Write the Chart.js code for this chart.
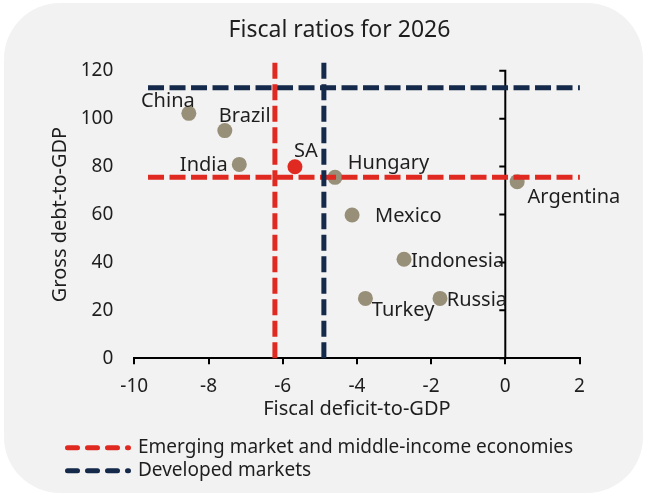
<!DOCTYPE html>
<html>
<head>
<meta charset="utf-8">
<script src="https://cdn.jsdelivr.net/npm/chart.js@4.4.1/dist/chart.umd.min.js"></script>
<style>
  html, body { margin: 0; padding: 0; background: #fff; }
  #wrap { position: relative; width: 647px; height: 496px; }
  #panel { position: absolute; left: 4px; top: 3px; width: 639px; height: 490px; border-radius: 56px; background: #f2f2f2; }
  #chart { position: absolute; left: 0; top: 0; }
</style>
</head>
<body>
<div id="wrap">
  <div id="panel"></div>
  <canvas id="chart" width="647" height="496"></canvas>
</div>
<script>
    // Data
    const countries = ["China", "Brazil", "India", "Hungary", "Mexico", "Indonesia", "Turkey", "Russia", "Argentina"];
    const deficit = [-8.53, -7.56, -7.17, -4.59, -4.13, -2.73, -3.77, -1.76, 0.32];
    const debt = [102.2, 95.0, 80.9, 75.5, 59.8, 41.3, 25.0, 25.0, 73.7];

    const focusCountry = ["SA"];
    const focusDeficit = [-5.67];
    const focusDebt = [79.9];

    // [deficit, debt] averages
    const emAverage = [-6.21, 75.5];
    const dmAverage = [-4.89, 112.9];
    const refLineDeficitSpan = [-9.63, 2.01];
    const refLineDebtSpan = [0, 123.6];

    const seriesNames = ["Emerging market and middle-income economies", "Developed markets"];

    // Label placement next to each point: [textAlign, dx, dy]
    const labelPlacement = {
      China: ["center", -21, -6.6],
      Brazil: ["left", -6, -8.4],
      India: ["right", -11.6, 6.7],
      SA: ["left", -1, -10],
      Hungary: ["left", 12.7, -8],
      Argentina: ["left", 10.4, 21],
      Mexico: ["left", 23, 6.7],
      Indonesia: ["left", 7, 7.4],
      Turkey: ["left", 6.4, 17.4],
      Russia: ["left", 6.7, 7.4]
    };

    const FONT = "'Noto Sans', sans-serif";
    const TEXT = "#1e1e1e";
    const RED = "#e02a21";
    const NAVY = "#15294a";
    const DOT = "#978f78";

    const ctx = document.getElementById("chart").getContext("2d");

    // Vertical axis line through x = 0 with ticks on its left
    const zeroAxis = {
      id: "zeroAxis",
      beforeDatasetsDraw(chart) {
        const { x, y } = chart.scales;
        const c = chart.ctx;
        const px = x.getPixelForValue(0);
        c.save();
        c.strokeStyle = "#000";
        c.lineWidth = 2;
        c.beginPath();
        c.moveTo(px, y.getPixelForValue(0));
        c.lineTo(px, y.getPixelForValue(y.max));
        y.ticks.forEach((t) => {
          const py = y.getPixelForValue(t.value);
          c.moveTo(px - 6, py);
          c.lineTo(px + 1, py);
        });
        c.stroke();
        c.restore();
      }
    };

    // Country names next to the dots
    const pointLabels = {
      id: "pointLabels",
      afterDatasetsDraw(chart) {
        const c = chart.ctx;
        c.save();
        c.font = "20px " + FONT;
        c.fillStyle = TEXT;
        c.textBaseline = "alphabetic";
        chart.data.datasets.forEach((ds, i) => {
          if (!ds.names) return;
          chart.getDatasetMeta(i).data.forEach((pt, j) => {
            const [align, dx, dy] = labelPlacement[ds.names[j]];
            c.textAlign = align;
            c.fillText(ds.names[j], pt.x + dx, pt.y + dy);
          });
        });
        c.restore();
      }
    };

    function refLine(xs, ys, color) {
      return {
        type: "line",
        data: xs.map((v, i) => ({ x: v, y: ys[i] })),
        borderColor: color,
        backgroundColor: color,
        borderWidth: 5,
        borderDash: [16, 5.5],
        pointRadius: 0,
        showLine: true,
        fill: false,
        clip: false
      };
    }

    const chart = new Chart(ctx, {
      type: "scatter",
      data: {
        datasets: [
          Object.assign(refLine([emAverage[0], emAverage[0]], refLineDebtSpan, RED), { label: seriesNames[0] }),
          Object.assign(refLine([dmAverage[0], dmAverage[0]], refLineDebtSpan, NAVY), { label: seriesNames[1] }),
          refLine(refLineDeficitSpan, [emAverage[1], emAverage[1]], RED),
          refLine(refLineDeficitSpan, [dmAverage[1], dmAverage[1]], NAVY),
          {
            names: focusCountry,
            data: focusDeficit.map((v, i) => ({ x: v, y: focusDebt[i] })),
            backgroundColor: RED,
            borderWidth: 0,
            pointRadius: 7.5
          },
          {
            names: countries,
            data: deficit.map((v, i) => ({ x: v, y: debt[i] })),
            backgroundColor: DOT,
            borderWidth: 0,
            pointRadius: 7.5
          }
        ]
      },
      options: {
        responsive: false,
        animation: false,
        devicePixelRatio: 1,
        events: [],
        layout: { padding: { top: 6, left: 63.5, right: 31.5, bottom: 5.8 } },
        plugins: {
          tooltip: { enabled: false },
          title: {
            display: true,
            text: "Fiscal ratios for 2026",
            color: TEXT,
            font: { family: FONT, size: 23, weight: "normal" },
            padding: { top: 10.6, bottom: 26.5 }
          },
          legend: {
            position: "bottom",
            align: "start",
            labels: {
              usePointStyle: true,
              pointStyleWidth: 61,
              padding: 4,
              color: TEXT,
              font: { family: FONT, size: 19 },
              generateLabels: (chart) =>
                chart.data.datasets.slice(0, 2).map((ds, i) => ({
                  text: ds.label,
                  fillStyle: ds.borderColor,
                  strokeStyle: ds.borderColor,
                  fontColor: TEXT,
                  lineWidth: 5,
                  lineDash: [10, 10],
                  lineCap: "round",
                  pointStyle: "line",
                  datasetIndex: i
                }))
            }
          }
        },
        scales: {
          x: {
            type: "linear",
            min: -10,
            max: 2,
            ticks: { stepSize: 2, padding: 10.6, color: TEXT, font: { family: FONT, size: 19 } },
            grid: { display: true, drawOnChartArea: false, drawTicks: true, tickLength: 6, color: "#000", lineWidth: 2 },
            border: { display: true, color: "#000", width: 2 },
            title: {
              display: true,
              text: "Fiscal deficit-to-GDP",
              color: TEXT,
              font: { family: FONT, size: 20 },
              padding: { top: 0, bottom: 12.7 }
            },
            afterFit: (s) => { s.height = 75.9; }
          },
          y: {
            type: "linear",
            min: 0,
            max: 120,
            ticks: { stepSize: 20, padding: 21, color: TEXT, font: { family: FONT, size: 19 } },
            grid: { display: false, drawTicks: false },
            border: { display: false },
            title: {
              display: true,
              text: "Gross debt-to-GDP",
              color: TEXT,
              font: { family: FONT, size: 20 },
              padding: { top: -15.5, bottom: 0 }
            },
            afterFit: (s) => { s.width = 70.8; }
          },
          y2: {
            type: "linear",
            position: "right",
            ticks: { display: false },
            grid: { display: false, drawTicks: false },
            border: { display: false },
            afterFit: (s) => { s.width = 36; }
          }
        }
      },
      plugins: [zeroAxis, pointLabels]
    });
</script>
</body>
</html>
